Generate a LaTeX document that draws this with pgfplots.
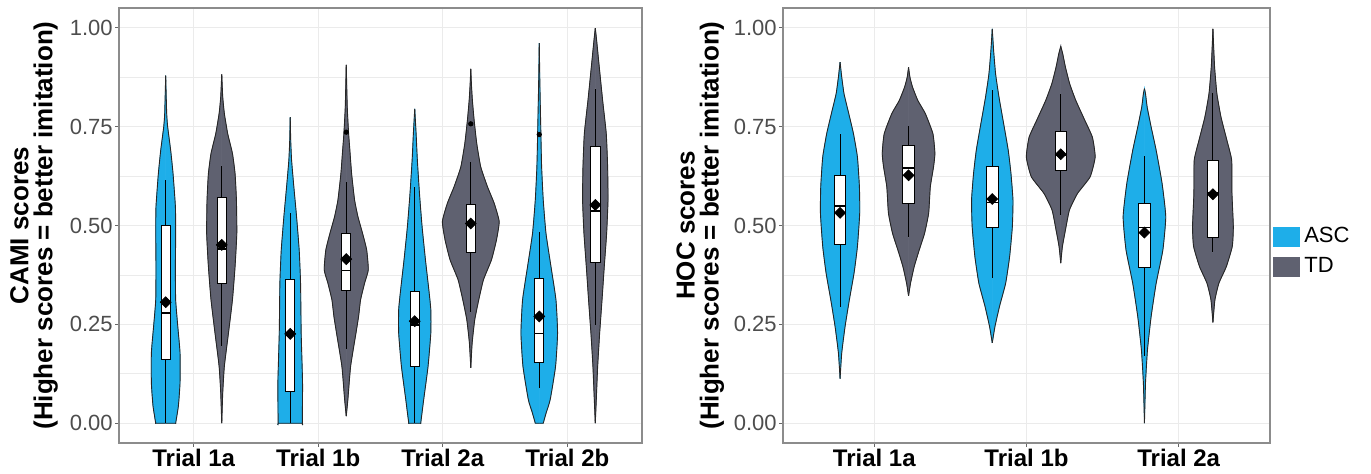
\documentclass[border=0pt]{standalone}
\usepackage{pgfplots}
\pgfplotsset{compat=1.18}
\usepackage{pgfplotstable}
\usepgfplotslibrary{statistics}
\usepackage{fontspec}
\setmainfont{Liberation Sans}
\definecolor{asc}{RGB}{30,174,233}
\definecolor{td}{RGB}{95,97,112}
\definecolor{gridc}{RGB}{235,235,235}
\definecolor{tickc}{RGB}{77,77,77}

% ---------- violin outlines: y, half width (axis units) ----------
\pgfplotstableread{
y w
0 0
0 0.080
0 0.080
0.044 0.102
0.102 0.115
0.178 0.115
0.245 0.097
0.312 0.080
0.396 0.078
0.480 0.080
0.547 0.078
0.631 0.059
0.690 0.040
0.749 0.016
0.783 0.008
0.879 0
}\cAa
\pgfplotstableread{
y w
0 0
0.077 0.008
0.144 0.021
0.228 0.054
0.312 0.086
0.396 0.107
0.480 0.121
0.564 0.118
0.631 0.107
0.682 0.086
0.732 0.048
0.783 0.021
0.825 0.008
0.882 0
}\cTa
\pgfplotstableread{
y w
0 0
0 0.097
0 0.097
0.102 0.099
0.228 0.088
0.354 0.083
0.438 0.072
0.522 0.051
0.598 0.029
0.665 0.011
0.715 0.004
0.774 0
}\cAb
\pgfplotstableread{
y w
0.018 0
0.060 0.013
0.144 0.035
0.228 0.078
0.270 0.099
0.312 0.115
0.354 0.147
0.388 0.177
0.438 0.164
0.480 0.131
0.522 0.094
0.564 0.067
0.631 0.043
0.690 0.029
0.732 0.019
0.799 0.008
0.906 0
}\cTb
\pgfplotstableread{
y w
0 0
0 0.048
0 0.048
0.060 0.072
0.144 0.107
0.228 0.129
0.287 0.129
0.338 0.113
0.413 0.086
0.497 0.059
0.581 0.038
0.665 0.021
0.732 0.011
0.795 0
}\cAc
\pgfplotstableread{
y w
0.140 0
0.203 0.011
0.262 0.032
0.312 0.064
0.363 0.102
0.413 0.166
0.463 0.206
0.510 0.228
0.556 0.188
0.598 0.134
0.648 0.080
0.707 0.048
0.766 0.027
0.816 0.013
0.858 0.005
0.896 0
}\cTc
\pgfplotstableread{
y w
0 0
0 0.032
0 0.032
0.027 0.056
0.060 0.088
0.144 0.131
0.228 0.147
0.312 0.134
0.396 0.094
0.480 0.054
0.564 0.032
0.648 0.019
0.732 0.013
0.858 0.005
0.961 0
}\cAd
\pgfplotstableread{
y w
0 0
0.060 0.008
0.144 0.019
0.228 0.035
0.312 0.054
0.396 0.072
0.480 0.091
0.564 0.102
0.648 0.099
0.732 0.088
0.816 0.059
0.900 0.032
0.967 0.011
0.999 0
}\cTd
\pgfplotstableread{
y w
0.113 0
0.178 0.011
0.245 0.033
0.312 0.061
0.380 0.092
0.447 0.114
0.531 0.129
0.598 0.127
0.673 0.114
0.732 0.088
0.783 0.057
0.833 0.026
0.875 0.011
0.913 0
}\hAa
\pgfplotstableread{
y w
0.322 0
0.354 0.013
0.396 0.037
0.438 0.070
0.480 0.105
0.531 0.132
0.598 0.143
0.648 0.164
0.682 0.173
0.732 0.160
0.783 0.110
0.816 0.061
0.850 0.026
0.875 0.009
0.900 0
}\hTa
\pgfplotstableread{
y w
0.203 0
0.245 0.018
0.296 0.048
0.354 0.088
0.421 0.114
0.497 0.132
0.564 0.136
0.631 0.123
0.690 0.105
0.757 0.075
0.825 0.044
0.883 0.022
0.942 0.009
0.997 0
}\hAb
\pgfplotstableread{
y w
0.405 0
0.447 0.011
0.489 0.031
0.539 0.057
0.581 0.110
0.623 0.193
0.673 0.226
0.723 0.208
0.766 0.158
0.816 0.099
0.858 0.059
0.900 0.031
0.934 0.013
0.953 0
}\hTb
\pgfplotstableread{
y w
0 0
0.102 0.007
0.186 0.020
0.270 0.044
0.354 0.077
0.438 0.121
0.522 0.140
0.606 0.116
0.690 0.077
0.749 0.044
0.799 0.018
0.833 0.007
0.846 0
}\hAc
\pgfplotstableread{
y w
0.255 0
0.312 0.013
0.354 0.039
0.396 0.088
0.447 0.127
0.497 0.134
0.581 0.125
0.665 0.123
0.715 0.092
0.774 0.053
0.833 0.026
0.900 0.011
0.959 0.004
0.997 0
}\hTc

\newcommand{\violin}[3]{%
  \addplot[forget plot, smooth, tension=0.3, fill=#3, draw=#3, line width=0.3pt] table[x expr=#1+\thisrow{w}, y=y]{#2} -- cycle;
  \addplot[forget plot, smooth, tension=0.3, fill=#3, draw=#3, line width=0.3pt] table[x expr=#1-\thisrow{w}, y=y]{#2} -- cycle;
  \addplot[forget plot, smooth, tension=0.3, draw=black!85, line width=0.45pt] table[x expr=#1+\thisrow{w}, y=y]{#2};
  \addplot[forget plot, smooth, tension=0.3, draw=black!85, line width=0.45pt] table[x expr=#1-\thisrow{w}, y=y]{#2};
}
\newcommand{\bx}[6]{%
  \addplot[forget plot, fill=white, draw=black, line width=0.45pt,
    boxplot/draw direction=y,
    boxplot/every median/.style={line width=0.9pt},
    boxplot prepared={draw position=#1, lower whisker=#2, lower quartile=#3,
      median=#4, upper quartile=#5, upper whisker=#6, box extend=0.075, whisker extend=0}]
    coordinates {};
}

\pgfplotsset{vio/.style={
  scale only axis, height=217.5pt,
  ymin=-0.05, ymax=1.05, xmin=0.4,
  ytick={0,0.25,0.5,0.75,1},
  yticklabels={0.00,0.25,0.50,0.75,1.00},
  minor ytick={0.125,0.375,0.625,0.875},
  ymajorgrids, yminorgrids, xmajorgrids,
  major grid style={draw=gridc, line width=0.6pt},
  minor grid style={draw=gridc, line width=0.35pt},
  axis line style={draw=black!45, line width=0.6pt},
  major tick style={draw=black!60, line width=0.5pt},
  minor tick length=0pt,
  tick align=outside, major tick length=2pt, tick pos=left,
  yticklabel style={font=\fontsize{11}{12}\selectfont, text=tickc, inner sep=1pt},
  xticklabel style={font=\bfseries\fontsize{12}{13}\selectfont, text=black, inner sep=1pt},
  ylabel style={align=center, font=\bfseries\fontsize{13}{12}\selectfont, anchor=center},
  anchor=south west,
}}

\begin{document}
\begin{tikzpicture}
\begin{axis}[vio, at={(59.5pt,15.5pt)}, width=261.5pt, xmax=4.6,
  xtick={1,2,3,4}, xticklabels={Trial 1a,Trial 1b,Trial 2a,Trial 2b},
  ylabel={CAMI scores\\(Higher scores = better imitation)},
  ylabel style={at={(axis description cs:-0.1625,0.5)}}]
\violin{0.775}{\cAa}{asc}
\violin{1.225}{\cTa}{td}
\violin{1.775}{\cAb}{asc}
\violin{2.225}{\cTb}{td}
\violin{2.775}{\cAc}{asc}
\violin{3.225}{\cTc}{td}
\violin{3.775}{\cAd}{asc}
\violin{4.225}{\cTd}{td}
\bx{0.775}{0}{0.160}{0.279}{0.501}{0.615}
\bx{1.225}{0.195}{0.353}{0.440}{0.570}{0.651}
\bx{1.775}{0}{0.080}{0.228}{0.364}{0.532}
\bx{2.225}{0.188}{0.336}{0.386}{0.479}{0.610}
\bx{2.775}{0}{0.144}{0.249}{0.332}{0.598}
\bx{3.225}{0.281}{0.432}{0.504}{0.554}{0.660}
\bx{3.775}{0.090}{0.154}{0.227}{0.367}{0.483}
\bx{4.225}{0.249}{0.407}{0.537}{0.701}{0.846}
\addplot[forget plot, only marks, mark=*, mark size=1.1pt, black] coordinates {(2.225,0.736) (3.225,0.757) (3.775,0.730)};
\addplot[forget plot, only marks, mark=square*, mark size=1.9pt, mark options={rotate=45, fill=black, draw=black}] coordinates {
(0.775,0.306) (1.225,0.451) (1.775,0.226) (2.225,0.415) (2.775,0.258) (3.225,0.505) (3.775,0.270) (4.225,0.552)};
\end{axis}

\begin{axis}[vio, at={(391.5pt,15.5pt)}, width=243.5pt, xmax=3.6,
  xtick={1,2,3}, xticklabels={Trial 1a,Trial 1b,Trial 2a},
  ylabel={HOC scores\\(Higher scores = better imitation)},
  ylabel style={at={(axis description cs:-0.17,0.5)}},
  legend image code/.code={\path[#1] (0pt,-5pt) rectangle (13.5pt,5pt);},
  legend cell align=left,
  legend style={at={(axis description cs:1.006,0.44)}, anchor=west, draw=none, fill=none,
    inner sep=0pt, row sep=5pt, font=\fontsize{11}{12}\selectfont, nodes={inner ysep=0pt, inner xsep=2pt}}]
\violin{0.775}{\hAa}{asc}
\violin{1.225}{\hTa}{td}
\violin{1.775}{\hAb}{asc}
\violin{2.225}{\hTb}{td}
\violin{2.775}{\hAc}{asc}
\violin{3.225}{\hTc}{td}
\bx{0.775}{0.294}{0.451}{0.549}{0.626}{0.732}
\bx{1.225}{0.470}{0.556}{0.646}{0.703}{0.751}
\bx{1.775}{0.367}{0.495}{0.558}{0.649}{0.843}
\bx{2.225}{0.526}{0.640}{0.678}{0.739}{0.833}
\bx{2.775}{0.170}{0.394}{0.495}{0.556}{0.676}
\bx{3.225}{0.432}{0.469}{0.583}{0.665}{0.835}
\addplot[forget plot, only marks, mark=square*, mark size=1.9pt, mark options={rotate=45, fill=black, draw=black}] coordinates {
(0.775,0.532) (1.225,0.627) (1.775,0.567) (2.225,0.680) (2.775,0.482) (3.225,0.579)};
\addlegendimage{fill=asc, draw=none}\addlegendentry{ASC}
\addlegendimage{fill=td, draw=none}\addlegendentry{TD}
\end{axis}
\pgfresetboundingbox
\path[use as bounding box] (0,0) rectangle (685.5pt,237pt);
\end{tikzpicture}
\end{document}
